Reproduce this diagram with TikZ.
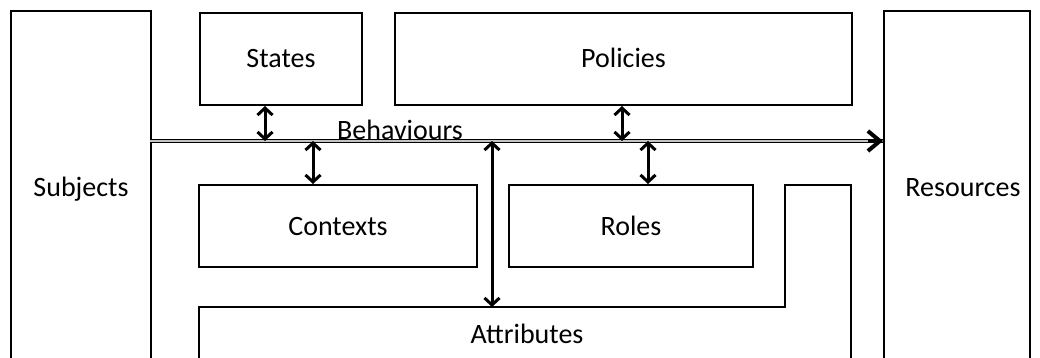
\documentclass[tikz,border=0pt]{standalone}
\usepackage{fontspec}
\setmainfont{Carlito}
\usetikzlibrary{arrows.meta}
\definecolor{railgray}{HTML}{C4C4C4}
\begin{document}
\begin{tikzpicture}[x=1pt,y=-1pt,
  every node/.style={font=\fontsize{28}{34}\selectfont, inner sep=0pt,
    text height=18pt, text depth=0pt},
  box/.style={draw, line width=2pt, rectangle},
  link/.style={line width=3pt, {Straight Barb[length=7pt,width=15pt]}-{Straight Barb[length=7pt,width=15pt]}},
  rail/.style={line width=1pt, double=railgray, double distance=1.8pt},
  railtip/.style={line width=4pt, -{Straight Barb[length=12pt,width=20pt]}}]
\useasboundingbox (0,0) rectangle (1040,358);
\clip (0,0) rectangle (1040,358);

% outer boxes (open towards the bottom edge)
\node[box, minimum width=140pt, minimum height=352pt] (subjects) at (81,187) {Subjects};
\node[box, minimum width=146pt, minimum height=352pt] (resources) at (957,187) {};
\node (resourceslbl) at (963,187) {Resources};

% upper row
\node[box, minimum width=162pt, minimum height=92pt] (states) at (281,59) {States};
\node[box, minimum width=457pt, minimum height=92pt] (policies) at (623.5,59) {Policies};

% middle row
\node[box, minimum width=278pt, minimum height=82pt] (contexts) at (338,226) {Contexts};
\node[box, minimum width=244pt, minimum height=82pt] (roles) at (631,226) {Roles};

% attributes outline
\coordinate (a1) at (199,370);
\coordinate (a2) at (199,307);
\coordinate (a3) at (785,307);
\coordinate (a4) at (785,185);
\coordinate (a5) at (851,185);
\coordinate (a6) at (851,370);
\draw[line width=2pt] (a1) -- (a2) -- (a3) -- (a4) -- (a5) -- (a6);
\node (attributes) at (527,334) {Attributes};
\coordinate (atop) at (492,307);

% behaviour rail
\coordinate (behstart) at (150,141);
\coordinate (behend) at (883,141);
\coordinate (behtip) at (868,141);
\draw[rail] (behstart) -- (behend);
\draw[railtip] (behtip) -- (behend);
\node (behaviours) at (400,130.5) {Behaviours};

% points on the rail
\coordinate (b1) at (265,141);
\coordinate (b2) at (313,141);
\coordinate (b3) at (492,141);
\coordinate (b4) at (622,141);
\coordinate (b5) at (648,141);

\draw[link] (states.south -| b1) -- (b1);
\draw[link] (b2) -- (contexts.north -| b2);
\draw[link] (b3) -- (atop);
\draw[link] (policies.south -| b4) -- (b4);
\draw[link] (b5) -- (roles.north -| b5);
\end{tikzpicture}
\end{document}
